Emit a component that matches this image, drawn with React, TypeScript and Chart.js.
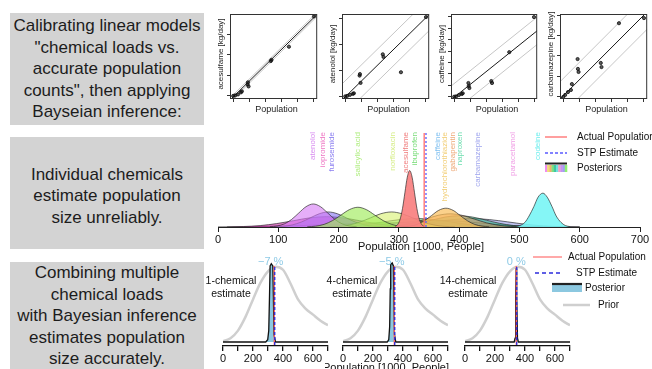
import React, { useEffect, useRef } from "react";
import { Chart, registerables } from "chart.js";

Chart.register(...registerables);

const FONT = "'Liberation Sans', Arial, Helvetica, sans-serif";
Chart.defaults.font.family = FONT;

// ================= Row 1: calibration (load vs population) =================
const stpPopulation = [0, 24, 59, 95, 107, 178, 182, 190, 465, 474, 690, 1000];
const acesulfameLoad = [0.0, 0.02, 0.07, 0.17, 0.22, 0.56, 0.66, 0.46, 1.7, 1.76, 2.4, 3.88];
const atenololLoad = [0.0, 0.02, 0.06, 0.1, 0.12, 0.8, 0.86, 0.52, 1.62, 1.52, 0.93, 3.05];
const caffeineLoad = [0.0, 0.03, 0.15, 0.24, 0.3, 1.2, 0.94, 0.76, 1.37, 1.2, 3.9, 6.97];
const carbamazepineLoad = [0.0, 0.1, 0.24, 0.34, 0.63, 1.85, 1.37, 1.22, 1.66, 1.46, 3.6, 3.85];
// [intercept, slope, prediction-band half width]
const acesulfameFit = [-0.05, 0.00388, 0.1];
const atenololFit = [-0.02, 0.00305, 0.62];
const caffeineFit = [-0.05, 0.0056, 1.2];
const carbamazepineFit = [0.05, 0.00395, 0.85];
const populationTicks = [0, 200, 400, 600, 800, 1000];
const populationRange = [-40, 1040];
const acesulfameTicks = [0, 1, 2, 3];
const atenololTicks = [0, 1, 2, 3];
const caffeineTicks = [0, 1, 2, 3, 4, 5, 6, 7];
const carbamazepineTicks = [0, 1, 2, 3, 4];
const acesulfameRange = [-0.154, 4.0];
const atenololRange = [-0.1, 3.17];
const caffeineRange = [-0.2, 7.24];
const carbamazepineRange = [-0.1, 4.05];

// ================= Row 2: individual chemical posteriors =================
const densityTicks = [0, 100, 200, 300, 400, 500, 600, 700];
const actualPopulation = 342;
const stpEstimate = 345;
const chemicalNames = [
  "atenolol", "iopromide", "furosemide", "salicylic acid", "norfloxacin", "acesulfame", "ibuprofen",
  "caffeine", "hydrochlorothiazide", "gabapentin", "naproxen", "carbamazepine", "paracetamol", "codeine",
];
const chemicalLabelPos = [158, 174, 189, 232, 290, 312, 327, 365, 376, 390, 401, 431, 489, 531];

const atenololDensity = [[86, 0.003], [98, 0.011], [110, 0.033], [122, 0.08], [134, 0.149], [146, 0.216], [158, 0.245], [170, 0.216], [182, 0.149], [194, 0.08], [206, 0.033], [218, 0.011], [230, 0.003]];
const iopromideDensity = [[15, 0.001], [42, 0.005], [70, 0.015], [97, 0.036], [125, 0.067], [152, 0.097], [180, 0.11], [207, 0.097], [235, 0.067], [262, 0.036], [290, 0.015], [317, 0.005], [345, 0.001]];
const furosemideDensity = [[93, 0.002], [108, 0.007], [123, 0.022], [138, 0.052], [153, 0.097], [168, 0.141], [183, 0.16], [198, 0.141], [213, 0.097], [228, 0.052], [243, 0.022], [258, 0.007], [273, 0.002]];
const salicylicAcidDensity = [[148, 0.002], [162, 0.009], [176, 0.028], [190, 0.068], [204, 0.127], [218, 0.185], [232, 0.21], [246, 0.185], [260, 0.127], [274, 0.068], [288, 0.028], [302, 0.009], [316, 0.002]];
const norfloxacinDensity = [[183, 0.002], [200, 0.007], [218, 0.022], [235, 0.052], [253, 0.097], [270, 0.141], [288, 0.16], [305, 0.141], [323, 0.097], [340, 0.052], [358, 0.022], [375, 0.007], [393, 0.002]];
const acesulfameDensity = [[294, 0.007], [298, 0.026], [302, 0.081], [306, 0.195], [310, 0.364], [314, 0.53], [318, 0.6], [322, 0.53], [326, 0.364], [330, 0.195], [334, 0.081], [338, 0.026], [342, 0.007]];
const ibuprofenDensity = [[165, 0.001], [192, 0.004], [220, 0.012], [247, 0.029], [275, 0.055], [302, 0.079], [330, 0.09], [357, 0.079], [385, 0.055], [412, 0.029], [440, 0.012], [467, 0.004], [495, 0.001]];
const caffeineDensity = [[155, 0.001], [190, 0.003], [225, 0.009], [260, 0.023], [295, 0.042], [330, 0.062], [365, 0.07], [400, 0.062], [435, 0.042], [470, 0.023], [505, 0.009], [540, 0.003], [575, 0.001]];
const hydrochlorothiazideDensity = [[306, 0.002], [318, 0.009], [330, 0.027], [342, 0.065], [354, 0.121], [366, 0.177], [378, 0.2], [390, 0.177], [402, 0.121], [414, 0.065], [426, 0.027], [438, 0.009], [450, 0.002]];
const gabapentinDensity = [[265, 0.002], [285, 0.006], [305, 0.019], [325, 0.045], [345, 0.085], [365, 0.124], [385, 0.14], [405, 0.124], [425, 0.085], [445, 0.045], [465, 0.019], [485, 0.006], [505, 0.002]];
const naproxenDensity = [[265, 0.001], [287, 0.005], [310, 0.016], [332, 0.039], [355, 0.073], [377, 0.106], [400, 0.12], [422, 0.106], [445, 0.073], [467, 0.039], [490, 0.016], [512, 0.005], [535, 0.001]];
const carbamazepineDensity = [[240, 0.001], [270, 0.004], [300, 0.012], [330, 0.029], [360, 0.055], [390, 0.079], [420, 0.09], [450, 0.079], [480, 0.055], [510, 0.029], [540, 0.012], [570, 0.004], [600, 0.001]];
const paracetamolDensity = [[0, 0.001], [60, 0.004], [120, 0.012], [180, 0.025], [240, 0.039], [300, 0.045], [360, 0.039], [420, 0.025], [480, 0.012], [540, 0.004], [600, 0.001]];
const codeineDensity = [[494, 0.004], [501, 0.016], [509, 0.049], [516, 0.117], [524, 0.218], [531, 0.318], [539, 0.36], [546, 0.318], [554, 0.218], [561, 0.117], [569, 0.049], [576, 0.016], [584, 0.004]];

const chemicalDensities = [
  atenololDensity, iopromideDensity, furosemideDensity, salicylicAcidDensity, norfloxacinDensity,
  acesulfameDensity, ibuprofenDensity, caffeineDensity, hydrochlorothiazideDensity, gabapentinDensity,
  naproxenDensity, carbamazepineDensity, paracetamolDensity, codeineDensity,
];

// ================= Row 3: combined Bayesian estimates =================
const bayesTicks = [0, 100, 200, 300, 400, 500, 600, 700];
const bayesTickLabels = ["0", "", "200", "", "400", "", "600", ""];
const priorX = [0, 50, 100, 150, 200, 250, 300, 350, 400, 450, 500, 550, 600, 650, 700];
const priorDensity = [0.01, 0.05, 0.15, 0.33, 0.56, 0.78, 0.93, 0.99, 0.95, 0.77, 0.56, 0.44, 0.36, 0.28, 0.22];
const posterior1 = [[0, 0], [285, 0], [298, 0.03], [305, 0.15], [310, 0.6], [314, 1.0], [322, 1.03], [332, 1.0], [336, 0.6], [340, 0.1], [350, 0], [700, 0]];
const posterior4 = [[0, 0], [295, 0], [305, 0.03], [311, 0.2], [315, 0.7], [318, 1.02], [328, 1.04], [336, 1.0], [339, 0.6], [343, 0.1], [352, 0], [700, 0]];
const posterior14 = [[0, 0], [328, 0], [334, 0.05], [338, 0.6], [341, 0.97], [343, 0.97], [346, 0.6], [350, 0.05], [356, 0], [700, 0]];
const posteriorMean = [318, 325, 342];
const percentError = [-7, -5, 0];
const chemicalCount = [1, 4, 14];

// ================= styles =================
const labelColors = [
  "#d88cf0", "#ee77c4", "#8a7ef0", "#b0ee80", "#d6ee88", "#f07e7e", "#78dc78",
  "#80c0f0", "#f2cf78", "#eeaa78", "#70deb0", "#a0a6ee", "#f0a0e6", "#6eeeee",
];
const fillColors = [
  "rgba(214,120,245,0.6)", "rgba(200,20,160,0.55)", "rgba(130,110,240,0.6)", "rgba(160,235,90,0.65)",
  "rgba(215,240,110,0.6)", "rgba(248,128,128,0.92)", "rgba(90,205,90,0.5)", "rgba(100,170,230,0.45)",
  "rgba(250,190,90,0.7)", "rgba(240,150,90,0.5)", "rgba(40,180,130,0.55)", "rgba(110,120,220,0.45)",
  "rgba(240,130,220,0.45)", "rgba(120,245,245,0.9)",
];
// drawing stack, top-most first
const densityStack = [5, 13, 8, 3, 0, 4, 2, 9, 10, 1, 6, 7, 11, 12];
const stripeColors = ["#f08cf0", "#f0e070", "#f0b070", "#80e080", "#40c8a0", "#70e0e0", "#f0a0c0", "#c890f0", "#a0a0f0", "#90f070"];

// ================= chart builders =================
function calibrationDecor(yLabel: string) {
  return {
    id: "calibrationDecor",
    afterDraw(chart: any) {
      const { ctx, chartArea: a } = chart;
      ctx.save();
      ctx.strokeStyle = "#333";
      ctx.lineWidth = 1;
      ctx.strokeRect(a.left + 0.5, a.top + 0.5, a.right - a.left - 1, a.bottom - a.top - 1);
      ctx.fillStyle = "#222";
      ctx.font = `9px ${FONT}`;
      ctx.textAlign = "center";
      ctx.textBaseline = "middle";
      ctx.fillText("Population", (a.left + a.right) / 2 + 3, a.bottom + 11);
      ctx.translate(a.left - 9, (a.top + a.bottom) / 2 - 2.5);
      ctx.rotate(-Math.PI / 2);
      ctx.font = `8px ${FONT}`;
      ctx.fillText(yLabel, 0, 0);
      ctx.restore();
    },
  };
}

function calibrationConfig(loads: number[], fit: number[], yTicks: number[], yRange: number[], yLabel: string): any {
  const [a, b, w] = fit;
  const fitLine = (off: number) => populationRange.map((x) => ({ x, y: a + b * x + off }));
  const lineDs = (off: number, color: string) => ({
    data: fitLine(off), showLine: true, borderColor: color, borderWidth: 1, pointRadius: 0, fill: false,
  });
  return {
    type: "scatter",
    data: {
      datasets: [
        {
          data: stpPopulation.map((x, i) => ({ x, y: loads[i] })),
          pointRadius: 1.6, pointBorderWidth: 0.8, borderColor: "#111", backgroundColor: "rgba(20,20,20,0.7)",
        },
        lineDs(0, "#1a1a1a"),
        lineDs(w, "#c6c6c6"),
        lineDs(-w, "#c6c6c6"),
      ],
    },
    options: {
      animation: false,
      responsive: false,
      layout: { padding: { left: 0, right: 1, top: 6, bottom: 0 } },
      plugins: { legend: { display: false }, tooltip: { enabled: false } },
      scales: {
        x: {
          type: "linear", min: populationRange[0], max: populationRange[1],
          afterBuildTicks: (s: any) => { s.ticks = populationTicks.map((v) => ({ value: v })); },
          ticks: { display: false },
          grid: { drawOnChartArea: false, tickLength: 3, color: "#333" },
          border: { display: false },
          afterFit: (s: any) => { s.height = 21; },
        },
        y: {
          type: "linear", min: yRange[0], max: yRange[1],
          afterBuildTicks: (s: any) => { s.ticks = yTicks.map((v) => ({ value: v })); },
          ticks: { display: false },
          grid: { drawOnChartArea: false, tickLength: 3, color: "#333" },
          border: { display: false },
          afterFit: (s: any) => { s.width = 16; },
        },
      },
    },
    plugins: [calibrationDecor(yLabel)],
  };
}

function densityConfig(): any {
  const vline = (x: number, color: string, dash: number[]) => ({
    data: [{ x, y: 0 }, { x, y: 1 }], borderColor: color, borderWidth: 1.3, borderDash: dash, pointRadius: 0, fill: false,
  });
  const curves = densityStack.map((i) => ({
    data: chemicalDensities[i].map(([x, y]) => ({ x, y })),
    borderColor: "rgba(40,40,40,0.85)", borderWidth: 0.8, backgroundColor: fillColors[i],
    fill: "origin", pointRadius: 0, cubicInterpolationMode: "monotone",
  }));
  const decor = {
    id: "densityDecor",
    afterDraw(chart: any) {
      const { ctx, chartArea: a, scales } = chart;
      const x = scales.x;
      ctx.save();
      ctx.font = `8px ${FONT}`;
      chemicalNames.forEach((name, i) => {
        ctx.save();
        ctx.translate(x.getPixelForValue(chemicalLabelPos[i]), 2);
        ctx.rotate(-Math.PI / 2);
        ctx.textAlign = "right";
        ctx.textBaseline = "middle";
        ctx.fillStyle = labelColors[i];
        ctx.fillText(name, 0, 0);
        ctx.restore();
      });
      ctx.fillStyle = "#111";
      ctx.font = `11px ${FONT}`;
      ctx.textAlign = "center";
      ctx.textBaseline = "middle";
      ctx.fillText("Population [1000, People]", (a.left + a.right) / 2 - 8, 117);
      // legend
      const lx0 = 345, lx1 = 367, tx = 377;
      const seg = (y: number, color: string, w: number, dash: number[]) => {
        ctx.beginPath();
        ctx.setLineDash(dash);
        ctx.strokeStyle = color;
        ctx.lineWidth = w;
        ctx.moveTo(lx0, y);
        ctx.lineTo(lx1, y);
        ctx.stroke();
        ctx.setLineDash([]);
      };
      seg(7, "#ff6b6b", 1.3, []);
      seg(23, "#5a5aff", 1.3, [3, 2]);
      const sw = (lx1 - lx0) / stripeColors.length;
      stripeColors.forEach((c, i) => {
        ctx.fillStyle = c;
        ctx.fillRect(lx0 + i * sw, 35, sw + 0.3, 7);
      });
      seg(33.5, "#222", 2, []);
      ctx.fillStyle = "#111";
      ctx.font = `10px ${FONT}`;
      ctx.textAlign = "left";
      ctx.fillText("Actual Population", tx, 7);
      ctx.fillText("STP Estimate", tx, 23);
      ctx.fillText("Posteriors", tx, 38);
      ctx.restore();
    },
  };
  return {
    type: "line",
    data: {
      datasets: [vline(stpEstimate, "#5a5aff", [2, 2]), vline(actualPopulation, "#ff6b6b", []), ...curves],
    },
    options: {
      animation: false,
      responsive: false,
      layout: { padding: { left: 18, right: 12, top: 3, bottom: 0 } },
      plugins: { legend: { display: false }, tooltip: { enabled: false } },
      scales: {
        x: {
          type: "linear", min: 0, max: 700,
          afterBuildTicks: (s: any) => { s.ticks = densityTicks.map((v) => ({ value: v })); },
          ticks: { font: { size: 11 }, color: "#111", padding: 1, maxRotation: 0, autoSkip: false },
          grid: { drawOnChartArea: false, tickLength: 5, color: "#222", lineWidth: 1 },
          border: { display: true, color: "#222", width: 1 },
          afterFit: (s: any) => { s.height = 25; },
        },
        y: { type: "linear", min: 0, max: 1, display: false },
      },
    },
    plugins: [decor],
  };
}

function bayesConfig(idx: number, padLeft: number, padRight: number, textX: number, withTitle: boolean, withLegend: boolean): any {
  const posterior = [posterior1, posterior4, posterior14][idx];
  const decor = {
    id: "bayesDecor",
    afterDraw(chart: any) {
      const { ctx, scales } = chart;
      ctx.save();
      ctx.textAlign = "center";
      ctx.textBaseline = "middle";
      const pct = percentError[idx];
      ctx.fillStyle = "#8ecae6";
      ctx.font = `11px ${FONT}`;
      ctx.fillText(`${pct < 0 ? "\u2212" : ""}${Math.abs(pct)} %`, scales.x.getPixelForValue(posteriorMean[idx]), 16);
      ctx.fillStyle = "#111";
      ctx.font = `10.5px ${FONT}`;
      ctx.fillText(`${chemicalCount[idx]}-chemical`, textX, 35);
      ctx.fillText("estimate", textX, 48);
      if (withTitle) {
        ctx.font = `11px ${FONT}`;
        ctx.fillText("Population [1000, People]", 61, 122);
      }
      if (withLegend) {
        const seg = (x0: number, x1: number, y: number, color: string, w: number, dash: number[]) => {
          ctx.beginPath();
          ctx.setLineDash(dash);
          ctx.strokeStyle = color;
          ctx.lineWidth = w;
          ctx.moveTo(x0, y);
          ctx.lineTo(x1, y);
          ctx.stroke();
          ctx.setLineDash([]);
        };
        seg(103, 132, 11, "#ff7a7a", 1.3, []);
        seg(105, 133, 27, "#2b2bdd", 1.3, [4, 3]);
        ctx.fillStyle = "#8cc8e0";
        ctx.fillRect(122, 39, 30, 7);
        seg(122, 152, 38, "#222", 2.2, []);
        seg(133, 160, 59, "#cfcfcf", 2.5, []);
        ctx.fillStyle = "#111";
        ctx.font = `10px ${FONT}`;
        ctx.textAlign = "left";
        ctx.fillText("Actual Population", 138, 11);
        ctx.fillText("STP Estimate", 146, 27);
        ctx.fillText("Posterior", 155, 42);
        ctx.fillText("Prior", 168, 59);
      }
      ctx.restore();
    },
  };
  return {
    type: "line",
    data: {
      datasets: [
        { data: [{ x: stpEstimate, y: -0.04 }, { x: stpEstimate, y: 1.0 }], borderColor: "#2b2bdd", borderWidth: 1.3, borderDash: [3, 2], pointRadius: 0, fill: false },
        { data: [{ x: actualPopulation, y: -0.04 }, { x: actualPopulation, y: 1.0 }], borderColor: "#ff5e5e", borderWidth: 1.3, pointRadius: 0, fill: false },
        { data: posterior.map(([x, y]) => ({ x, y })), borderColor: "#111", borderWidth: 1.3, backgroundColor: "#8cc8e0", fill: "origin", pointRadius: 0, tension: 0 },
        { data: priorX.map((x, i) => ({ x, y: priorDensity[i] })), borderColor: "#cfcfcf", borderWidth: 2.5, pointRadius: 0, cubicInterpolationMode: "monotone", fill: false },
      ],
    },
    options: {
      animation: false,
      responsive: false,
      layout: { padding: { left: padLeft, right: padRight, top: 12, bottom: 0 } },
      plugins: { legend: { display: false }, tooltip: { enabled: false } },
      scales: {
        x: {
          type: "linear", min: 0, max: 700,
          afterBuildTicks: (s: any) => { s.ticks = bayesTicks.map((v) => ({ value: v })); },
          ticks: {
            callback: (_v: any, i: number) => bayesTickLabels[i],
            autoSkip: false, maxRotation: 0, padding: 1, color: "#111", font: { size: 11 },
          },
          grid: { drawOnChartArea: false, tickLength: 5, color: "#111", lineWidth: 1.3 },
          border: { display: true, color: "#111", width: 1.3 },
          afterFit: (s: any) => { s.height = 23; },
        },
        y: { type: "linear", min: -0.0526, max: 1.105, display: false },
      },
    },
    plugins: [decor],
  };
}

// ================= components =================
function ChartCanvas({ left, top, width, height, build }: { left: number; top: number; width: number; height: number; build: () => any }) {
  const ref = useRef<HTMLCanvasElement | null>(null);
  useEffect(() => {
    if (!ref.current) return;
    const chart = new Chart(ref.current, build());
    return () => chart.destroy();
  }, []);
  return <canvas ref={ref} width={width} height={height} style={{ position: "absolute", left, top, width, height }} />;
}

function TextBox({ top, height, lines, justify, padTop }: { top: number; height: number; lines: string[]; justify: string; padTop: number }) {
  return (
    <div
      style={{
        position: "absolute", left: 10, top, width: 194, height, boxSizing: "border-box", paddingTop: padTop,
        background: "#d3d3d3", display: "flex", flexDirection: "column", justifyContent: justify,
        alignItems: "center", fontFamily: FONT, fontSize: 17, lineHeight: "21.6px", color: "#1c1c1c", textAlign: "center",
      }}
    >
      {lines.map((l, i) => (
        <div key={i} style={{ whiteSpace: "nowrap" }}>{l}</div>
      ))}
    </div>
  );
}

export default function App() {
  return (
    <div style={{ position: "absolute", left: 0, top: 0, width: 652, height: 369, overflow: "hidden", background: "#fff" }}>
      <TextBox top={13} height={112} justify="center" padTop={0}
        lines={["Calibrating linear models", "\"chemical loads vs.", "accurate population", "counts\", then applying", "Bayseian inference:"]} />
      <TextBox top={137} height={112} justify="center" padTop={6}
        lines={["Individual chemicals", "estimate population", "size unreliably."]} />
      <TextBox top={262} height={120} justify="flex-start" padTop={0}
        lines={["Combining multiple", "chemical loads", "with Bayesian inference", "estimates population", "size accurately."]} />

      <ChartCanvas left={214} top={8} width={108} height={112}
        build={() => calibrationConfig(acesulfameLoad, acesulfameFit, acesulfameTicks, acesulfameRange, "acesulfame [kg/day]")} />
      <ChartCanvas left={326} top={8} width={108} height={112}
        build={() => calibrationConfig(atenololLoad, atenololFit, atenololTicks, atenololRange, "atenolol [kg/day]")} />
      <ChartCanvas left={435} top={8} width={107} height={112}
        build={() => calibrationConfig(caffeineLoad, caffeineFit, caffeineTicks, caffeineRange, "caffeine [kg/day]")} />
      <ChartCanvas left={544} top={8} width={108} height={112}
        build={() => calibrationConfig(carbamazepineLoad, carbamazepineFit, carbamazepineTicks, carbamazepineRange, "carbamazepine [kg/day]")} />

      <ChartCanvas left={200} top={130} width={452} height={122} build={() => densityConfig()} />

      <ChartCanvas left={200} top={246} width={135} height={123} build={() => bayesConfig(0, 23, 7, 31, false, false)} />
      <ChartCanvas left={325} top={246} width={130} height={123} build={() => bayesConfig(1, 18, 7, 27, true, false)} />
      <ChartCanvas left={430} top={246} width={222} height={123} build={() => bayesConfig(2, 35, 82, 38, false, true)} />
    </div>
  );
}
